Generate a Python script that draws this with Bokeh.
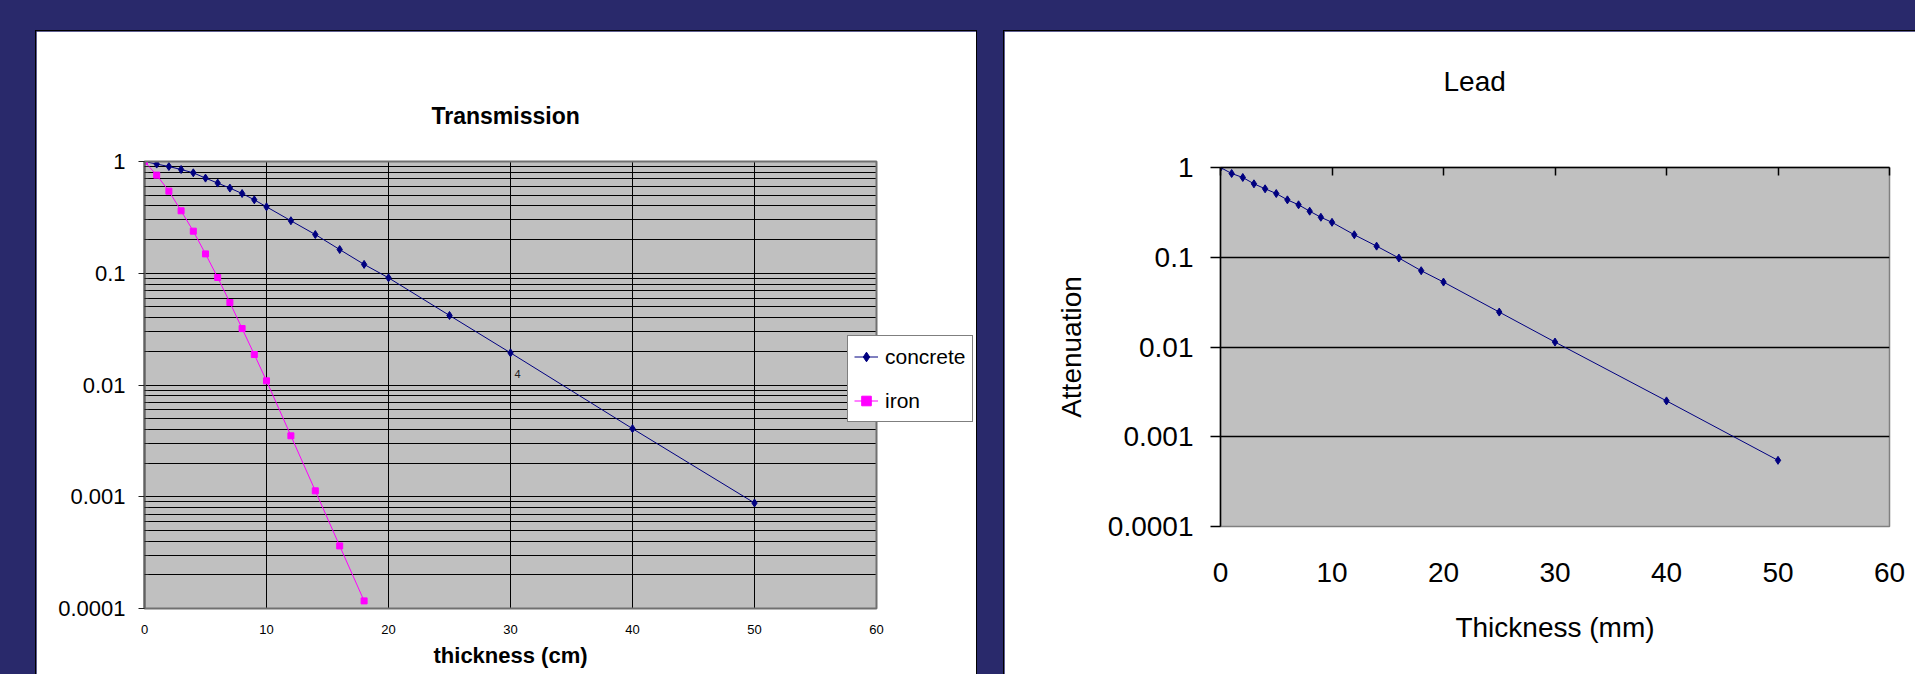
from bokeh.plotting import figure
from bokeh.layouts import row
from bokeh.models import FixedTicker, LinearAxis, Legend, LegendItem, Title
from bokeh.core.properties import value
from bokeh.embed import file_html
from bokeh.resources import INLINE

# ---------------- data ----------------
concrete_thickness = [0, 1, 2, 3, 4, 5, 6, 7, 8, 9, 10, 12, 14, 16, 18, 20, 25, 30, 40, 50]
concrete_transmission = [1.0, 0.948, 0.902, 0.848, 0.792, 0.710, 0.641, 0.578, 0.517, 0.454,
                         0.393, 0.295, 0.222, 0.163, 0.120, 0.091, 0.0419, 0.0194, 0.00407, 0.000879]
iron_thickness = [0, 1, 2, 3, 4, 5, 6, 7, 8, 9, 10, 12, 14, 16, 18]
iron_transmission = [1.0, 0.755, 0.543, 0.362, 0.238, 0.149, 0.0916, 0.0547, 0.0320, 0.01875,
                     0.0109, 0.00351, 0.00113, 0.000363, 0.000117]
lead_thickness = [0, 1, 2, 3, 4, 5, 6, 7, 8, 9, 10, 12, 14, 16, 18, 20, 25, 30, 40, 50]
lead_attenuation = [1.0, 0.857, 0.774, 0.658, 0.579, 0.513, 0.436, 0.384, 0.326, 0.279,
                    0.245, 0.178, 0.133, 0.098, 0.0708, 0.0529, 0.0245, 0.01135, 0.00251, 0.000546]
x_ticks = [0, 10, 20, 30, 40, 50, 60]
y_ticks = [0.0001, 0.001, 0.01, 0.1, 1]
y_tick_labels = ["0.0001", "0.001", "0.01", "0.1", "1"]
series_names = ["concrete", "iron"]
data_label_x = 30
data_label_text = "4"

# ---------------- styles ----------------
NAVY_BG = "#29296B"
PLOT_BG = "#C0C0C0"
NAVY = "#000080"
MAGENTA = "#FF00FF"
SANS = "Liberation Sans"

minor_log = [m * 10.0 ** e for e in range(-4, 0) for m in range(2, 10)]
overrides = dict(zip(y_ticks, y_tick_labels))

# ================= left chart: Transmission =================
# The frame reaches the right edge of the white panel so the legend (which
# overlaps the plot-area edge) is not clipped; the grey plot area covers 0..60.
F1_W, F1_LEFT, PLOT_PX = 940, 108, 732
x1_max = x_ticks[-1] * (F1_W - F1_LEFT) / PLOT_PX

f1 = figure(width=F1_W, height=643, x_range=(x_ticks[0], x1_max), y_range=(y_ticks[0], y_ticks[-1]),
            y_axis_type="log", output_backend="svg", toolbar_location=None, frame_align=False,
            min_border_left=F1_LEFT, min_border_right=0, min_border_top=130, min_border_bottom=66,
            background_fill_color="white", border_fill_color="white", outline_line_color=None)
f1.margin = (31, 0, 0, 36)
f1.styles = {"outline": "1px solid #000000"}

f1.title.text = "Transmission"
f1.title.align = "left"
f1.title.offset = 287
f1.title.text_font = SANS
f1.title.text_font_style = "bold"
f1.title.text_font_size = "23px"
f1.title.text_color = "black"
f1.title.standoff = 66

# grey plot area, spanning the axis limits
f1.quad(left=x_ticks[0], right=x_ticks[-1], bottom=y_ticks[0], top=y_ticks[-1],
        fill_color=PLOT_BG, line_color=None, level="image")
# white cover hiding anything drawn to the right of the plot area
f1.quad(left=x_ticks[-1], right=x1_max * 2, bottom=y_ticks[0] / 2, top=y_ticks[-1] * 2,
        fill_color="white", line_color=None, level="guide")
# plot-area border
f1.quad(left=x_ticks[0], right=x_ticks[-1], bottom=y_ticks[0], top=y_ticks[-1],
        fill_color=None, line_color="#707070", line_width=2, level="guide")

xa = f1.xaxis[0]
xa.ticker = FixedTicker(ticks=x_ticks)
xa.major_tick_in = 0
xa.major_tick_out = 0
xa.minor_tick_in = 0
xa.minor_tick_out = 0
xa.axis_line_color = None
xa.major_label_text_font = SANS
xa.major_label_text_font_size = "13px"
xa.major_label_text_color = "black"
xa.major_label_standoff = 16

x1_title = Title(text="thickness (cm)", align="left", offset=289, standoff=8,
                 text_font=SANS, text_font_style="bold", text_font_size="22px",
                 text_color="black")
f1.add_layout(x1_title, "below")

ya = f1.yaxis[0]
ya.ticker = FixedTicker(ticks=y_ticks, minor_ticks=minor_log)
ya.major_label_overrides = overrides
ya.major_tick_out = 6
ya.major_tick_in = 0
ya.minor_tick_in = 4
ya.minor_tick_out = 0
ya.major_tick_line_color = "#202020"
ya.minor_tick_line_color = "#202020"
ya.axis_line_color = "#606060"
ya.axis_line_width = 2
ya.major_label_text_font = SANS
ya.major_label_text_font_size = "22px"
ya.major_label_text_color = "black"
ya.major_label_standoff = 13

f1.xgrid.ticker = FixedTicker(ticks=x_ticks[1:-1])
f1.xgrid.grid_line_color = "black"
f1.xgrid.grid_line_width = 1
f1.ygrid.ticker = FixedTicker(ticks=y_ticks[1:-1], minor_ticks=minor_log)
f1.ygrid.grid_line_color = "black"
f1.ygrid.grid_line_width = 1.2
f1.ygrid.minor_grid_line_color = "black"
f1.ygrid.minor_grid_line_width = 1

l1 = f1.line(concrete_thickness, concrete_transmission, line_color=NAVY, line_width=1)
s1 = f1.scatter(concrete_thickness, concrete_transmission, marker="diamond", size=8,
                fill_color=NAVY, line_color=NAVY, line_width=1)
l2 = f1.line(iron_thickness, iron_transmission, line_color=MAGENTA, line_width=1)
s2 = f1.scatter(iron_thickness, iron_transmission, marker="square", size=6,
                fill_color=MAGENTA, line_color=MAGENTA, line_width=1)

i_lab = concrete_thickness.index(data_label_x)
f1.text(x=[concrete_thickness[i_lab]], y=[concrete_transmission[i_lab]], text=[data_label_text],
        x_offset=7, y_offset=21, text_font=value(SANS), text_font_size="11px",
        text_align="center", text_baseline="middle", text_color="#202020")

legend = Legend(items=[LegendItem(label=series_names[0], renderers=[l1, s1]),
                       LegendItem(label=series_names[1], renderers=[l2, s2])],
                location=(703, 186), margin=0, padding=6, spacing=15,
                glyph_width=24, glyph_height=29, label_height=29, label_standoff=7,
                label_text_font=SANS, label_text_font_size="21px", label_text_color="black",
                border_line_color="black", border_line_width=1,
                background_fill_color="white", background_fill_alpha=1.0)
f1.add_layout(legend)

# ================= right chart: Lead =================
f2 = figure(width=911, height=643, x_range=(x_ticks[0], x_ticks[-1]), y_range=(y_ticks[0], y_ticks[-1]),
            y_axis_type="log", output_backend="svg", toolbar_location=None, frame_align=False,
            min_border_left=216, min_border_right=26, min_border_top=136, min_border_bottom=148,
            background_fill_color=PLOT_BG, border_fill_color="white",
            outline_line_color="#808080", outline_line_width=1.5)
f2.margin = (31, 0, 0, 28)
f2.styles = {"outline": "1px solid #000000"}

f2.title.text = "Lead"
f2.title.align = "left"
f2.title.offset = 223
f2.title.text_font = SANS
f2.title.text_font_style = "normal"
f2.title.text_font_size = "28px"
f2.title.text_color = "black"
f2.title.standoff = 20

xb = f2.xaxis[0]
xb.ticker = FixedTicker(ticks=x_ticks)
xb.major_tick_in = 0
xb.major_tick_out = 0
xb.minor_tick_in = 0
xb.minor_tick_out = 0
xb.axis_line_color = None
xb.major_label_text_font = SANS
xb.major_label_text_font_size = "28px"
xb.major_label_text_color = "black"
xb.major_label_standoff = 36
xb.axis_label = "Thickness (mm)"
xb.axis_label_text_font = SANS
xb.axis_label_text_font_style = "normal"
xb.axis_label_text_font_size = "28px"
xb.axis_label_text_color = "black"
xb.axis_label_standoff = 27

# visible top axis: inward ticks only
top_axis = LinearAxis(ticker=FixedTicker(ticks=x_ticks), major_tick_in=8, major_tick_out=0,
                      minor_tick_in=0, minor_tick_out=0, axis_line_color="black",
                      axis_line_width=1.5, major_tick_line_color="black", major_tick_line_width=1.5,
                      major_label_overrides={t: "" for t in x_ticks},
                      major_label_text_font_size="1px", major_label_standoff=0)
f2.add_layout(top_axis, "above")
# invisible spacer axis that lifts the title
spacer_axis = LinearAxis(ticker=FixedTicker(ticks=x_ticks), major_tick_in=0, major_tick_out=61,
                         minor_tick_in=0, minor_tick_out=0, axis_line_color=None,
                         major_tick_line_color=None, minor_tick_line_color=None,
                         major_label_overrides={t: "" for t in x_ticks},
                         major_label_text_font_size="1px", major_label_standoff=0)
f2.add_layout(spacer_axis, "above")

yb = f2.yaxis[0]
yb.ticker = FixedTicker(ticks=y_ticks)
yb.major_label_overrides = overrides
yb.major_tick_out = 10
yb.major_tick_in = 0
yb.minor_tick_in = 0
yb.minor_tick_out = 0
yb.axis_line_color = "black"
yb.axis_line_width = 1.5
yb.major_tick_line_color = "black"
yb.major_tick_line_width = 1.5
yb.major_label_text_font = SANS
yb.major_label_text_font_size = "28px"
yb.major_label_text_color = "black"
yb.major_label_standoff = 17
yb.axis_label = "Attenuation"
yb.axis_label_text_font = SANS
yb.axis_label_text_font_style = "normal"
yb.axis_label_text_font_size = "28px"
yb.axis_label_text_color = "black"
yb.axis_label_standoff = 18

f2.xgrid.grid_line_color = None
f2.ygrid.ticker = FixedTicker(ticks=y_ticks[1:-1])
f2.ygrid.grid_line_color = "black"
f2.ygrid.grid_line_width = 1.5

f2.line(lead_thickness, lead_attenuation, line_color=NAVY, line_width=1)
f2.scatter(lead_thickness, lead_attenuation, marker="diamond", size=8,
           fill_color=NAVY, line_color=NAVY, line_width=1)

layout = row(f1, f2)
html = file_html(layout, INLINE, title="Transmission and Lead attenuation")
html = html.replace("</head>",
                    "<style>html, body { background-color: %s !important; }</style></head>" % NAVY_BG, 1)
open("out.html", "w").write(html)
